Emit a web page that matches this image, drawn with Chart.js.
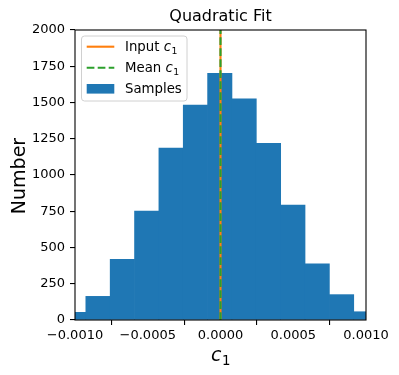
<!DOCTYPE html>
<html>
<head>
<meta charset="utf-8">
<script src="https://cdn.jsdelivr.net/npm/chart.js@4.4.1/dist/chart.umd.min.js"></script>
<style>
  html, body { margin: 0; padding: 0; background: #fff; }
  canvas { display: block; }
</style>
</head>
<body>
<canvas id="c1Chart" width="399" height="375"></canvas>
<script>
// histogram of fitted c1 (quadratic fit)
const BIN_CENTERS = [-0.0010093, -0.0008419, -0.0006745, -0.0005071, -0.0003397, -0.0001723,
  -0.0000049, 0.0001625, 0.0003299, 0.0004973, 0.0006647, 0.0008321, 0.0009995];
const COUNTS = [53, 163, 418, 752, 1186, 1483, 1701, 1526, 1218, 793, 388, 175, 57];

const INPUT_C1 = 0.0;
const MEAN_C1 = 0.0;

const X_TICKS = [-0.001, -0.0005, 0, 0.0005, 0.001];
const Y_TICKS = [0, 250, 500, 750, 1000, 1250, 1500, 1750, 2000];

const BLUE = "#1f77b4", ORANGE = "#ff7f0e", GREEN = "#2ca02c";
const FONT = "'DejaVu Sans', sans-serif";
const LW = 2.1;
const DASH = [7.7, 3.3];

function fmtX(v) {
  if (Math.abs(v) < 1e-12) return "0.0000";
  return v.toFixed(4).replace("-", "\u2212");
}

// draws "prefix c_1" with italic c and a small subscript
function drawC1(ctx, prefix, x, y, size, align) {
  const subSize = size * 0.7;
  ctx.font = `${size}px ${FONT}`;
  const wPre = ctx.measureText(prefix).width;
  ctx.font = `italic ${size}px ${FONT}`;
  const wC = ctx.measureText("c").width;
  ctx.font = `${subSize}px ${FONT}`;
  const wSub = ctx.measureText("1").width;
  let x0 = x;
  if (align === "center") x0 = x - (wPre + wC + wSub) / 2;
  ctx.textAlign = "left";
  ctx.textBaseline = "alphabetic";
  ctx.font = `${size}px ${FONT}`;
  ctx.fillText(prefix, x0, y);
  ctx.font = `italic ${size}px ${FONT}`;
  ctx.fillText("c", x0 + wPre, y);
  ctx.font = `${subSize}px ${FONT}`;
  ctx.fillText("1", x0 + wPre + wC + 0.5, y + size * 0.2);
}

const decorPlugin = {
  id: "decor",
  afterDraw(chart) {
    const { ctx, chartArea: a } = chart;
    ctx.save();

    // spines
    ctx.strokeStyle = "#000";
    ctx.lineWidth = 1.1;
    ctx.strokeRect(a.left, a.top, a.right - a.left, a.bottom - a.top);

    ctx.fillStyle = "#000";
    // title
    ctx.font = `16px ${FONT}`;
    ctx.textAlign = "center";
    ctx.textBaseline = "alphabetic";
    ctx.fillText("Quadratic Fit", (a.left + a.right) / 2, 21);

    // y label
    ctx.save();
    ctx.translate(25, (a.top + a.bottom) / 2 + 1);
    ctx.rotate(-Math.PI / 2);
    ctx.font = `19px ${FONT}`;
    ctx.textAlign = "center";
    ctx.fillText("Number", 0, 0);
    ctx.restore();

    // x label
    drawC1(ctx, "", (a.left + a.right) / 2, 361, 19, "center");

    // legend box
    const bx = 81.5, by = 36, bw = 105.5, bh = 65;
    ctx.beginPath();
    ctx.roundRect(bx, by, bw, bh, 3);
    ctx.fillStyle = "rgba(255,255,255,0.8)";
    ctx.fill();
    ctx.strokeStyle = "#d0d0d0";
    ctx.lineWidth = 1;
    ctx.stroke();

    const hx0 = 86.7, hx1 = 114.3, tx = 125;
    const rows = [46.7, 67.8, 88.8];

    ctx.lineWidth = LW;
    ctx.strokeStyle = ORANGE;
    ctx.beginPath();
    ctx.moveTo(hx0, rows[0]); ctx.lineTo(hx1, rows[0]);
    ctx.stroke();

    ctx.strokeStyle = GREEN;
    ctx.setLineDash(DASH);
    ctx.beginPath();
    ctx.moveTo(hx0, rows[1]); ctx.lineTo(hx1, rows[1]);
    ctx.stroke();
    ctx.setLineDash([]);

    ctx.fillStyle = BLUE;
    ctx.fillRect(hx0, rows[2] - 4.8, hx1 - hx0, 9.6);

    ctx.fillStyle = "#000";
    drawC1(ctx, "Input ", tx, rows[0] + 4.6, 13.3, "left");
    drawC1(ctx, "Mean ", tx, rows[1] + 4.6, 13.3, "left");
    ctx.font = `13.3px ${FONT}`;
    ctx.textAlign = "left";
    ctx.fillText("Samples", tx, rows[2] + 4.6);

    ctx.restore();
  },
};

new Chart(document.getElementById("c1Chart"), {
  data: {
    datasets: [
      {
        type: "bar",
        label: "Samples",
        data: BIN_CENTERS.map((x, i) => ({ x, y: COUNTS[i] })),
        backgroundColor: BLUE,
        borderWidth: 0,
        barPercentage: 1,
        categoryPercentage: 1,
        order: 3,
      },
      {
        type: "line",
        label: "Input c1",
        data: [{ x: INPUT_C1, y: 0 }, { x: INPUT_C1, y: 2000 }],
        borderColor: ORANGE,
        borderWidth: LW,
        pointRadius: 0,
        order: 2,
      },
      {
        type: "line",
        label: "Mean c1",
        data: [{ x: MEAN_C1, y: 0 }, { x: MEAN_C1, y: 2000 }],
        borderColor: GREEN,
        borderWidth: LW,
        borderDash: DASH,
        pointRadius: 0,
        order: 1,
      },
    ],
  },
  options: {
    responsive: false,
    animation: false,
    events: [],
    layout: { padding: { top: 30, right: 33, left: 0, bottom: 0 } },
    plugins: { legend: { display: false }, tooltip: { enabled: false }, title: { display: false } },
    scales: {
      x: {
        type: "linear",
        min: X_TICKS[0],
        max: X_TICKS[X_TICKS.length - 1],
        offset: false,
        afterFit: (s) => { s.height = 55; },
        afterBuildTicks: (s) => { s.ticks = X_TICKS.map((v) => ({ value: v })); },
        grid: { drawOnChartArea: false, drawTicks: true, tickLength: 5, color: "#000", lineWidth: 1.1 },
        border: { display: false },
        ticks: {
          autoSkip: false, maxRotation: 0, padding: 3,
          color: "#000", font: { family: FONT, size: 13 },
          callback: (v) => fmtX(v),
        },
      },
      y: {
        type: "linear",
        min: Y_TICKS[0],
        max: Y_TICKS[Y_TICKS.length - 1],
        afterFit: (s) => { s.width = 75; },
        afterBuildTicks: (s) => { s.ticks = Y_TICKS.map((v) => ({ value: v })); },
        grid: { drawOnChartArea: false, drawTicks: true, tickLength: 5, color: "#000", lineWidth: 1.1 },
        border: { display: false },
        ticks: {
          autoSkip: false, padding: 5,
          color: "#000", font: { family: FONT, size: 13 },
          callback: (v) => String(v),
        },
      },
    },
  },
  plugins: [decorPlugin],
});
</script>
</body>
</html>
